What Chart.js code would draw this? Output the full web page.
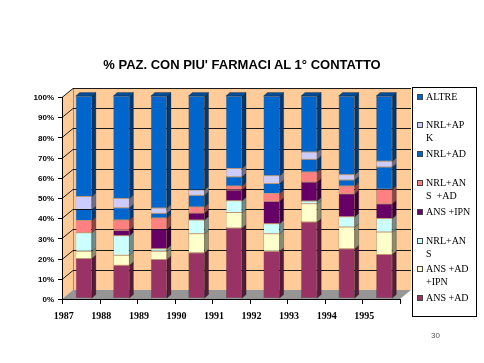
<!DOCTYPE html>
<html>
<head>
<meta charset="utf-8">
<script src="https://cdn.jsdelivr.net/npm/chart.js@4.4.1/dist/chart.umd.min.js"></script>
<style>
  html,body{margin:0;padding:0;background:#fff;}
  #wrap{position:relative;width:484px;height:363px;overflow:hidden;}
  #title{position:absolute;left:0;top:57px;width:484px;text-align:center;font-family:"Liberation Sans",Arial,sans-serif;font-weight:bold;font-size:13px;line-height:15px;color:#000;}
  #legend{position:absolute;left:412px;top:87px;width:65px;height:230px;border:1px solid #000;background:#fff;box-sizing:border-box;}
  .entry{position:absolute;left:0;font-family:"Liberation Serif","Times New Roman",serif;font-size:10px;line-height:13px;color:#000;white-space:pre;}
  .sw{position:absolute;left:4px;top:4px;width:4px;height:4px;border:1px solid #444;}
  .lt{position:absolute;left:13px;top:0;}
  #page{position:absolute;left:431px;top:331px;font-family:"Liberation Sans",Arial,sans-serif;font-size:8px;color:#555;}
</style>
</head>
<body>
<div id="wrap">
  <canvas id="c" width="484" height="363"></canvas>
  <div id="title"></div>
  <div id="legend"></div>
  <div id="page">30</div>
</div>
<script>
const TITLE = "% PAZ. CON PIU' FARMACI AL 1° CONTATTO";
const years = ['1987','1988','1989','1990','1991','1992','1993','1994','1995'];
const yTicks = [0,10,20,30,40,50,60,70,80,90,100];
// series, bottom to top of each stack
const seriesNames = ['ANS +AD','ANS +AD\n+IPN','NRL+AN\nS','ANS +IPN','NRL+AN\nS  +AD','NRL+AD','NRL+AP\nK','ALTRE'];
const seriesColors = ['#993366','#FFFFCC','#CCFFFF','#660066','#FF8080','#0066CC','#CCCCFF','#0066CC'];
const ansAd      = [19.5, 16.2, 19.1, 22.4, 34.7, 23.1, 37.6, 24.4, 21.5];
const ansAdIpn   = [ 3.6,  5.0,  4.0,  9.4,  7.6,  8.7,  9.1, 10.7, 11.2];
const nrlAns     = [ 9.2,  9.6,  1.3,  6.8,  5.8,  5.0,  1.3,  5.1,  6.6];
const ansIpn     = [ 0.0,  2.8,  9.6,  3.5,  5.4, 11.1,  9.4, 11.4,  7.4];
const nrlAnsAd   = [ 6.1,  5.0,  5.6,  3.0,  2.0,  3.8,  5.0,  3.8,  7.1];
const nrlAd      = [ 5.4,  6.1,  2.3,  5.8,  4.5,  5.0,  6.3,  3.0, 11.1];
const nrlApk     = [ 6.4,  4.6,  2.6,  2.6,  4.1,  3.8,  3.6,  2.6,  2.8];
const altre      = [49.8, 50.7, 55.5, 46.5, 35.9, 39.5, 27.7, 39.0, 32.3];
const seriesValues = [ansAd, ansAdIpn, nrlAns, ansIpn, nrlAnsAd, nrlAd, nrlApk, altre];

document.getElementById('title').textContent = TITLE;

function shade(hex, f){
  const n = parseInt(hex.slice(1),16);
  const r = Math.round(((n>>16)&255)*f), g = Math.round(((n>>8)&255)*f), b = Math.round((n&255)*f);
  return 'rgb('+r+','+g+','+b+')';
}

const DX = 11, DY = 9;     // wall depth
const BDX = 4, BDY = 3.5;  // bar depth

const wallsPlugin = {
  id:'walls',
  beforeDatasetsDraw(chart){
    const {ctx, chartArea:ca, scales:{y}} = chart;
    const FL = ca.left - 3, FR = ca.right - 3;
    const yF = v => y.getPixelForValue(v) + 1;
    const yB = v => yF(v) - DY;
    const BL = FL + DX, BR = FR + DX;
    ctx.save();
    ctx.fillStyle = '#FFCC99';
    ctx.beginPath();
    ctx.moveTo(FL, yF(100)); ctx.lineTo(BL, yB(100)); ctx.lineTo(BL, yB(0)); ctx.lineTo(FL, yF(0));
    ctx.closePath(); ctx.fill();
    ctx.fillRect(BL, yB(100), BR-BL, yB(0)-yB(100));
    ctx.fillStyle = '#969696';
    ctx.beginPath();
    ctx.moveTo(FL, yF(0)); ctx.lineTo(FR, yF(0)); ctx.lineTo(BR, yB(0)); ctx.lineTo(BL, yB(0));
    ctx.closePath(); ctx.fill();
    ctx.strokeStyle = '#1a1a1a'; ctx.lineWidth = 1;
    yTicks.forEach(v => {
      if (v === 0) return;
      const yb = Math.round(yB(v)) + 0.5, yf = Math.round(yF(v)) + 0.5;
      ctx.beginPath();
      ctx.moveTo(FL, yf); ctx.lineTo(BL, yb); ctx.lineTo(BR, yb);
      ctx.stroke();
    });
    ctx.strokeStyle = 'rgba(0,0,0,0.35)';
    ctx.beginPath(); ctx.moveTo(BL+0.5, yB(100)); ctx.lineTo(BL+0.5, yB(0)); ctx.stroke();
    ctx.strokeStyle = '#000';
    ctx.beginPath();
    ctx.moveTo(FL+0.5, yF(100)); ctx.lineTo(FL+0.5, Math.round(yF(0))+0.5);
    ctx.lineTo(FR, Math.round(yF(0))+0.5);
    ctx.stroke();
    yTicks.forEach(v => {
      const yf = Math.round(yF(v)) + 0.5;
      ctx.beginPath(); ctx.moveTo(FL-4, yf); ctx.lineTo(FL+0.5, yf); ctx.stroke();
    });
    for (let k = 0; k <= years.length; k++){
      const xx = Math.round(FL + k*(FR-FL)/years.length) + 0.5;
      ctx.beginPath(); ctx.moveTo(xx, Math.round(yF(0))); ctx.lineTo(xx, Math.round(yF(0))+5); ctx.stroke();
    }
    ctx.restore();
  },
  afterDatasetsDraw(chart){
    const {ctx} = chart;
    const last = chart.data.datasets.length - 1;
    ctx.save();
    chart.data.datasets.forEach((ds, i) => {
      const meta = chart.getDatasetMeta(i);
      meta.data.forEach(bar => {
        const p = bar.getProps(['x','y','base','width'], true);
        if (Math.abs(p.base - p.y) < 0.2) return;
        const r = p.x + p.width/2, l = p.x - p.width/2;
        ctx.fillStyle = shade(seriesColors[i], 0.55);
        ctx.beginPath();
        ctx.moveTo(r, p.y); ctx.lineTo(r+BDX, p.y-BDY); ctx.lineTo(r+BDX, p.base-BDY); ctx.lineTo(r, p.base);
        ctx.closePath(); ctx.fill();
        ctx.strokeStyle = 'rgba(0,0,0,0.5)'; ctx.lineWidth = 0.5; ctx.stroke();
        if (i === last){
          ctx.fillStyle = shade(seriesColors[i], 0.75);
          ctx.beginPath();
          ctx.moveTo(l, p.y); ctx.lineTo(l+BDX, p.y-BDY); ctx.lineTo(r+BDX, p.y-BDY); ctx.lineTo(r, p.y);
          ctx.closePath(); ctx.fill(); ctx.stroke();
        }
      });
    });
    ctx.restore();
  }
};

const datasets = seriesValues.map((vals, i) => ({
  label: seriesNames[i].replace('\n',''),
  data: vals,
  backgroundColor: seriesColors[i],
  borderColor: 'rgba(0,0,0,0.55)',
  borderWidth: 0.5,
  borderSkipped: false,
  categoryPercentage: 1,
  barPercentage: 0.43
}));

new Chart(document.getElementById('c'), {
  type:'bar',
  data:{labels: years, datasets},
  plugins:[wallsPlugin],
  options:{
    responsive:false, animation:false,
    layout:{padding:{left:0,right:81,top:96,bottom:0}},
    plugins:{
      legend:{display:false},
      tooltip:{enabled:false},
      title:{display:false}
    },
    scales:{
      x:{stacked:true,
        grid:{display:false, drawTicks:false}, border:{display:false},
        ticks:{color:'#000', font:{family:'"Liberation Serif", "Times New Roman", serif', size:10, weight:'bold'},
          labelOffset:-20, padding:12, maxRotation:0, autoSkip:false},
        afterFit(s){ s.height = 65; }
      },
      y:{stacked:true, min:0, max:100,
        grid:{display:false, drawTicks:false}, border:{display:false},
        ticks:{stepSize:10, color:'#000', callback:v => v + '%',
          font:{family:'"Liberation Sans", Arial, sans-serif', size:8, weight:'bold'},
          padding:11, labelOffset:2},
        afterFit(s){ s.width = 65; }
      }
    }
  }
});

const leg = document.getElementById('legend');
const order = seriesNames.map((_, i) => i).reverse();
order.forEach((si, k) => {
  const e = document.createElement('div');
  e.className = 'entry';
  e.style.top = (1.5 + k*28.8) + 'px';
  const sw = document.createElement('div');
  sw.className = 'sw';
  sw.style.background = seriesColors[si];
  const t = document.createElement('div');
  t.className = 'lt';
  t.textContent = seriesNames[si];
  e.appendChild(sw); e.appendChild(t);
  leg.appendChild(e);
});
</script>
</body>
</html>
